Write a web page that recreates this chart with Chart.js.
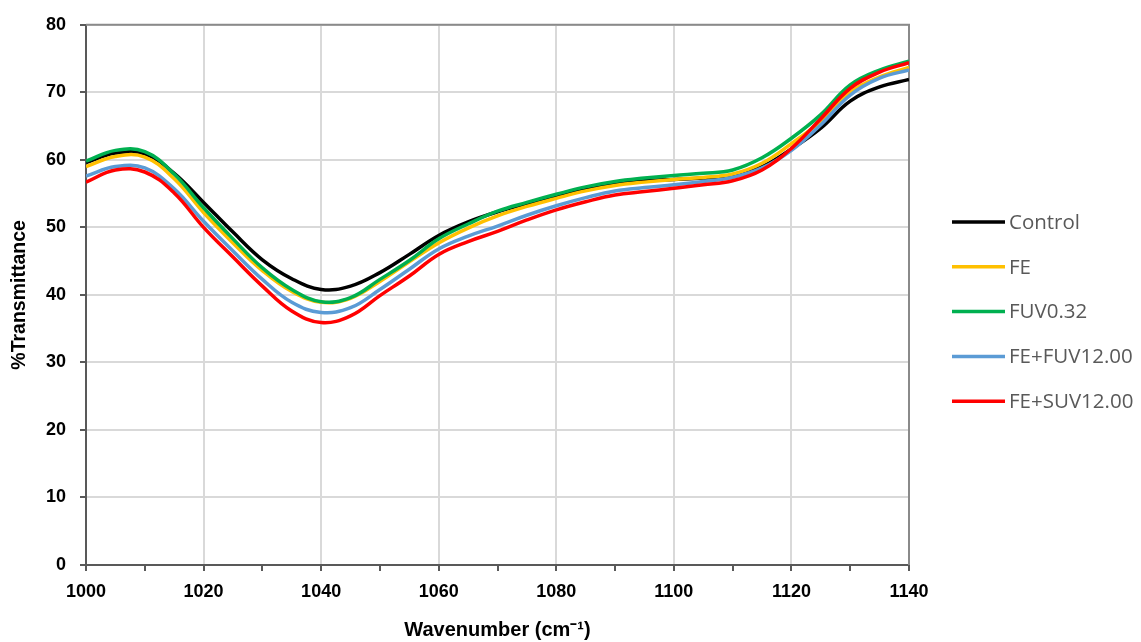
<!DOCTYPE html>
<html lang="en">
<head>
<meta charset="UTF-8">
<script src="https://cdn.jsdelivr.net/npm/chart.js"></script>
<style>
  html, body { margin: 0; padding: 0; background: #fff; }
  #wrap { width: 1141px; height: 642px; }
</style>
</head>
<body>
<div id="wrap"><canvas id="ftir" width="1141" height="642"></canvas></div>
<script>
// wavenumber (cm-1), one reading every 5
const wavenumbers = [1000, 1005, 1010, 1015, 1020, 1025, 1030, 1035, 1040, 1045, 1050, 1055, 1060, 1065, 1070,
                     1075, 1080, 1085, 1090, 1095, 1100, 1105, 1110, 1115, 1120, 1125, 1130, 1135, 1140];

const control  = [59.6, 61.0, 60.9, 58.0, 53.7, 49.3, 45.2, 42.4, 40.8, 41.3, 43.3, 46.0, 48.8, 50.8, 52.3,
                  53.5, 54.6, 55.6, 56.5, 56.9, 57.1, 57.3, 57.8, 59.0, 61.6, 64.7, 68.7, 70.8, 71.9];
const fe       = [59.0, 60.5, 60.4, 57.2, 52.2, 47.7, 43.6, 40.5, 38.9, 39.5, 42.0, 44.9, 47.7, 49.9, 51.7,
                  53.1, 54.3, 55.4, 56.2, 56.7, 57.1, 57.4, 57.9, 59.5, 62.4, 65.7, 70.0, 72.3, 73.7];
const fuv032   = [59.8, 61.4, 61.2, 57.9, 52.9, 48.3, 44.0, 40.8, 39.0, 39.6, 42.3, 45.1, 48.3, 50.5, 52.4,
                  53.7, 54.9, 56.0, 56.8, 57.3, 57.7, 58.0, 58.5, 60.3, 63.2, 66.7, 71.1, 73.3, 74.6];
const feFuv12  = [57.6, 59.0, 58.8, 55.7, 50.9, 46.5, 42.3, 38.9, 37.4, 38.1, 40.8, 43.8, 46.8, 48.7, 50.2,
                  51.8, 53.2, 54.4, 55.4, 55.9, 56.3, 56.8, 57.4, 58.8, 61.4, 65.2, 69.6, 72.1, 73.3];
const feSuv12  = [56.7, 58.5, 58.2, 55.1, 50.0, 45.6, 41.3, 37.6, 35.9, 36.9, 39.9, 42.8, 46.0, 47.9, 49.4,
                  51.1, 52.6, 53.8, 54.8, 55.3, 55.8, 56.3, 56.9, 58.5, 61.7, 66.1, 70.6, 73.0, 74.4];

const seriesNames  = ['Control', 'FE', 'FUV0.32', 'FE+FUV12.00', 'FE+SUV12.00'];
const seriesValues = [control, fe, fuv032, feFuv12, feSuv12];
const seriesColors = ['#000000', '#FFC000', '#00B050', '#5B9BD5', '#FF0000'];

const xTicks = { min: 1000, max: 1140, step: 10, labelStep: 20 };
const yTicks = { min: 0, max: 80, step: 10 };

const datasets = seriesNames.map((name, i) => ({
    label: name,
    data: wavenumbers.map((w, j) => ({ x: w, y: seriesValues[i][j] })),
    borderColor: seriesColors[i],
    backgroundColor: seriesColors[i],
    borderWidth: 3.5,
    pointRadius: 0,
    fill: false,
    tension: 0.4,
    order: seriesNames.length - i   // later series drawn on top
}));

// gray frame on the top and right of the plot area
const plotFrame = {
    id: 'plotFrame',
    beforeDatasetsDraw(chart) {
        const { ctx, chartArea: a } = chart;
        ctx.save();
        ctx.strokeStyle = '#8a8a8a';
        ctx.lineWidth = 2;
        ctx.beginPath();
        ctx.moveTo(a.left, a.top);
        ctx.lineTo(a.right, a.top);
        ctx.lineTo(a.right, a.bottom);
        ctx.stroke();
        ctx.restore();
    }
};

// legend drawn to the right, like the original
const sideLegend = {
    id: 'sideLegend',
    afterDraw(chart) {
        const { ctx } = chart;
        const x0 = 952, lineLen = 53, y0 = 222, gap = 44.8;
        ctx.save();
        ctx.font = '20.5px "Open Sans"';
        ctx.textBaseline = 'middle';
        ctx.textAlign = 'left';
        chart.data.datasets.forEach((ds, i) => {
            const y = y0 + i * gap;
            ctx.strokeStyle = ds.borderColor;
            ctx.lineWidth = 3.5;
            ctx.beginPath();
            ctx.moveTo(x0, y);
            ctx.lineTo(x0 + lineLen, y);
            ctx.stroke();
            ctx.fillStyle = '#595959';
            ctx.fillText(ds.label, x0 + lineLen + 4, y + 1);
        });
        ctx.restore();
    }
};

new Chart(document.getElementById('ftir'), {
    type: 'line',
    data: { datasets },
    options: {
        responsive: false,
        animation: false,
        layout: { padding: { top: 23, right: 232, left: 0, bottom: 0 } },
        plugins: { legend: { display: false }, tooltip: { enabled: false } },
        scales: {
            x: {
                type: 'linear',
                min: xTicks.min,
                max: xTicks.max,
                afterFit(axis) { axis.height = 77; },
                ticks: {
                    stepSize: xTicks.step,
                    autoSkip: false,
                    maxRotation: 0,
                    padding: 10,
                    color: '#000',
                    font: { family: '"Liberation Sans"', size: 18, weight: 'bold' },
                    callback: v => (v % xTicks.labelStep === 0 ? v : '')
                },
                grid: {
                    color: c => (c.tick && c.tick.value % xTicks.labelStep === 0 ? '#d9d9d9' : 'rgba(0,0,0,0)'),
                    lineWidth: 2,
                    tickColor: '#595959',
                    tickLength: 6
                },
                border: { color: '#595959', width: 2 },
                title: {
                    display: true,
                    text: 'Wavenumber (cm\u207B\u00B9)',
                    color: '#000',
                    font: { family: '"Liberation Sans"', size: 20, weight: 'bold' },
                    padding: 0
                }
            },
            y: {
                min: yTicks.min,
                max: yTicks.max,
                afterFit(axis) { axis.width = 86; },
                ticks: {
                    stepSize: yTicks.step,
                    padding: 14,
                    color: '#000',
                    font: { family: '"Liberation Sans"', size: 18, weight: 'bold' }
                },
                grid: { color: '#d9d9d9', lineWidth: 2, tickColor: '#595959', tickLength: 6 },
                border: { color: '#595959', width: 2 },
                title: {
                    display: true,
                    text: '%Transmittance',
                    color: '#000',
                    font: { family: '"Liberation Sans"', size: 19.5, weight: 'bold' },
                    padding: { top: 8, bottom: 0 }
                }
            }
        }
    },
    plugins: [plotFrame, sideLegend]
});
</script>
</body>
</html>
